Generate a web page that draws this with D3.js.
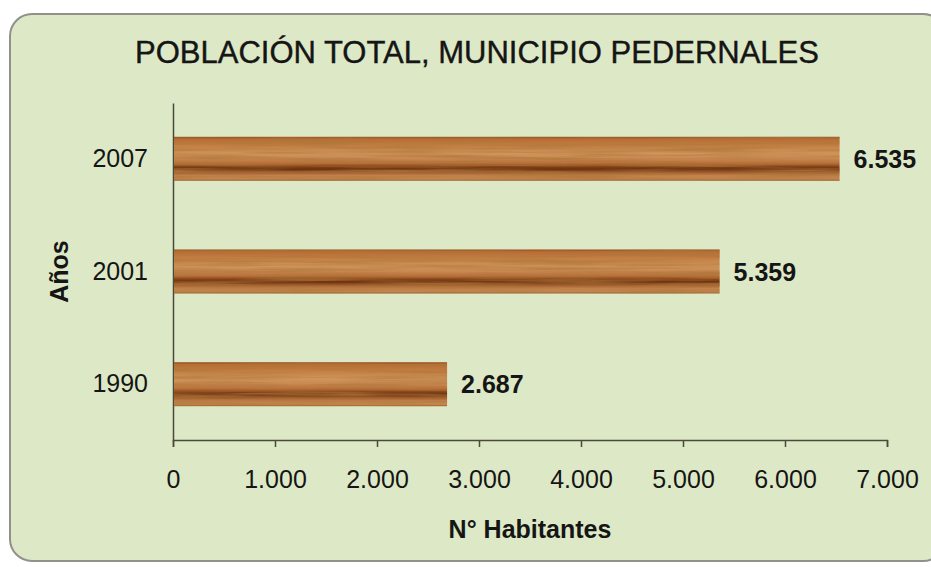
<!DOCTYPE html>
<html>
<head>
<meta charset="utf-8">
<script src="https://d3js.org/d3.v7.min.js"></script>
<style>
  body { margin: 0; background: #ffffff; }
  text { font-family: "Liberation Sans", Arial, sans-serif; fill: #151515; }
  .axis path, .axis line { stroke: #4a4a3c; stroke-width: 1.5; }
</style>
</head>
<body>
<script>
// data
let years = ['2007', '2001', '1990'];
let population = [6535, 5359, 2687];
let xTicks = [0, 1000, 2000, 3000, 4000, 5000, 6000, 7000];
let title = 'POBLACIÓN TOTAL, MUNICIPIO PEDERNALES';
let xTitle = 'N° Habitantes';
let yTitle = 'Años';

let bardata = years.map((y, i) => ({ year: y, value: population[i] }));

let svgWidth = 931;
let svgHeight = 567;

// spanish style numbers: 1.000
let es = d3.formatLocale({ decimal: ',', thousands: '.', grouping: [3], currency: ['', ''] });
let fmt = es.format(',d');

let svg = d3.select("body")
  .append("svg")
  .attr("width", svgWidth)
  .attr("height", svgHeight);

let defs = svg.append('defs');

// wood look for the bars
let wood = defs.append('linearGradient')
  .attr('id', 'wood')
  .attr('x1', 0).attr('x2', 0).attr('y1', 0).attr('y2', 1);
[[0, '#8f4a20'], [0.05, '#b86c33'], [0.2, '#c47f45'], [0.38, '#cf955c'], [0.5, '#c98850'],
 [0.6, '#b8703a'], [0.68, '#844116'], [0.74, '#683211'], [0.8, '#9a5628'], [0.88, '#c0814c'],
 [0.96, '#c48650'], [1, '#9e5e2c']].forEach(s => {
  wood.append('stop').attr('offset', s[0]).attr('stop-color', s[1]);
});

// fine horizontal grain
let grain = defs.append('filter').attr('id', 'grain')
  .attr('x', 0).attr('y', 0).attr('width', 1).attr('height', 1);
grain.append('feTurbulence')
  .attr('type', 'fractalNoise')
  .attr('baseFrequency', '0.008 0.3')
  .attr('numOctaves', 3)
  .attr('seed', 4)
  .attr('result', 'noise');
grain.append('feColorMatrix')
  .attr('in', 'noise')
  .attr('type', 'matrix')
  .attr('values', '0 0 0 0 0.42  0 0 0 0 0.18  0 0 0 0 0.04  0 0 0 -1.6 1.05')
  .attr('result', 'tint');
grain.append('feComposite')
  .attr('in', 'tint').attr('in2', 'SourceGraphic').attr('operator', 'in');

// panel
svg.append('rect')
  .attr('x', 10).attr('y', 14)
  .attr('width', 935).attr('height', 547)
  .attr('rx', 22).attr('ry', 22)
  .style('fill', '#dde9c6')
  .style('stroke', '#8f918a')
  .style('stroke-width', 2);

//horizontal scale
let xScale = d3.scaleLinear()
  .domain([0, 7000])
  .range([173, 887]);

//vertical scale
let yScale = d3.scaleBand()
  .domain(years)
  .range([103, 440])
  .paddingInner(0.61)
  .paddingOuter(0.3);

svg.append('g')
  .attr('class', 'axis')
  .attr('transform', 'translate(0,440)')
  .call(d3.axisBottom(xScale).tickValues(xTicks).tickFormat(fmt).tickSize(7).tickPadding(23))
  .call(g => g.selectAll('text').style('font-size', '25px').style('font-family', '"Liberation Sans", Arial, sans-serif').style('fill', '#151515'));

svg.append('g')
  .attr('class', 'axis')
  .attr('transform', 'translate(173,0)')
  .call(d3.axisLeft(yScale).tickSize(0).tickPadding(25))
  .call(g => g.selectAll('text').style('font-size', '25px').style('font-family', '"Liberation Sans", Arial, sans-serif').style('fill', '#151515'));

let bars = svg.selectAll('rect.bar')
  .data(bardata)
  .enter()
  .append('rect')
    .attr('class', 'bar')
    .attr('x', xScale(0) + 1)
    .attr('y', d => yScale(d.year))
    .attr('width', d => xScale(d.value) - xScale(0) - 1)
    .attr('height', yScale.bandwidth())
    .style('fill', 'url(#wood)');

// grain overlay, same boxes
svg.selectAll('rect.grain')
  .data(bardata)
  .enter()
  .append('rect')
    .attr('class', 'grain')
    .attr('x', xScale(0) + 1)
    .attr('y', d => yScale(d.year))
    .attr('width', d => xScale(d.value) - xScale(0) - 1)
    .attr('height', yScale.bandwidth())
    .style('fill', '#000')
    .attr('filter', 'url(#grain)');

svg.selectAll('text.val')
  .data(bardata)
  .enter()
  .append('text')
    .attr('class', 'val')
    .attr('x', d => xScale(d.value) + 14)
    .attr('y', d => yScale(d.year) + yScale.bandwidth() / 2)
    .attr('dy', '0.36em')
    .style('font-size', '25px')
    .style('font-weight', 'bold')
    .text(d => fmt(d.value));

svg.append('text')
  .attr('x', 477).attr('y', 63)
  .attr('text-anchor', 'middle')
  .style('font-size', '31px')
  .style('stroke', '#151515')
  .style('stroke-width', 0.4)
  .text(title);

svg.append('text')
  .attr('x', (xScale.range()[0] + xScale.range()[1]) / 2).attr('y', 538)
  .attr('text-anchor', 'middle')
  .style('font-size', '25px')
  .style('font-weight', 'bold')
  .text(xTitle);

svg.append('text')
  .attr('transform', 'translate(68,' + (yScale('2001') + yScale.bandwidth() / 2) + ') rotate(-90)')
  .attr('text-anchor', 'middle')
  .style('font-size', '25px')
  .style('font-weight', 'bold')
  .text(yTitle);
</script>
</body>
</html>
